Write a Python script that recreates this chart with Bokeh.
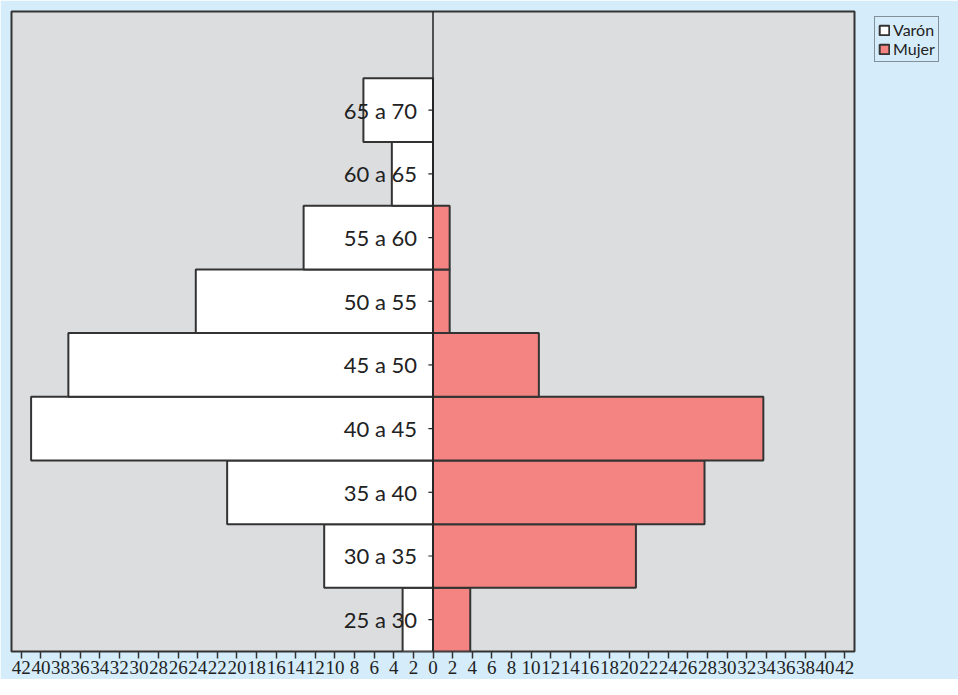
from bokeh.plotting import figure
from bokeh.models import FixedTicker, Span, Legend, LegendItem, ColumnDataSource
from bokeh.core.properties import value
from bokeh.embed import file_html
from bokeh.resources import INLINE

# ---- data ----
age_groups = ["25 a 30", "30 a 35", "35 a 40", "40 a 45", "45 a 50",
              "50 a 55", "55 a 60", "60 a 65", "65 a 70"]
varon = [3.1, 11.1, 21.0, 41.0, 37.2, 24.2, 13.2, 4.2, 7.1]
mujer = [3.8, 20.7, 27.7, 33.7, 10.8, 1.7, 1.7, 0.0, 0.0]
tick_values = list(range(-42, 43, 2))
tick_labels = {t: str(abs(t)) for t in tick_values}
legend_labels = ["Varón", "Mujer"]

BG = "#D5ECFA"
PLOT_BG = "#DCDDDF"
MALE_C = "#FFFFFF"
FEMALE_C = "#F38481"
LINE_C = "#333333"

centers = [i + 0.5 for i in range(len(age_groups))]
src = ColumnDataSource(dict(
    y=centers,
    varon=[-v for v in varon],
    mujer=mujer,
    zero=[0.0] * len(age_groups),
    label=age_groups,
    tick0=[-0.47] * len(age_groups),
))

p = figure(frame_width=843, frame_height=640, output_backend="svg", toolbar_location=None,
           x_range=(-43, 43), y_range=(0, 10.05), y_axis_location=None,
           min_border_left=11, min_border_top=11, min_border_right=88,
           min_border_bottom=28,
           background_fill_color=PLOT_BG, border_fill_color=BG)
p.outline_line_color = LINE_C
p.outline_line_width = 2
p.grid.visible = False

r_m = p.hbar(y="y", left="varon", right="zero", height=1.0, source=src,
             fill_color=MALE_C, line_color=LINE_C, line_width=2)
r_f = p.hbar(y="y", left="zero", right="mujer", height=1.0, source=src,
             fill_color=FEMALE_C, line_color=LINE_C, line_width=2)

p.add_layout(Span(location=0, dimension="height", line_color="#222222", line_width=1.5))
p.segment(x0="tick0", x1="zero", y0="y", y1="y", source=src,
          line_color="#222222", line_width=1.2)
p.text(x="zero", y="y", text="label", source=src, x_offset=-16,
       text_align="right", text_baseline="middle",
       text_font=value("Lato"), text_font_size="22px", text_color="#222222")

ax = p.xaxis[0]
ax.ticker = FixedTicker(ticks=tick_values, minor_ticks=[])
ax.major_label_overrides = tick_labels
ax.axis_line_color = None
ax.major_tick_in = 0
ax.major_tick_out = 7
ax.major_tick_line_color = LINE_C
ax.major_tick_line_width = 1.5
ax.minor_tick_line_color = None
ax.major_label_standoff = 2
ax.major_label_text_font = "Liberation Sans Narrow"
ax.major_label_text_font_size = "19px"
ax.major_label_text_color = "#222222"

legend = Legend(items=[LegendItem(label=legend_labels[0], renderers=[r_m]),
                       LegendItem(label=legend_labels[1], renderers=[r_f])],
                location=(20, 589), orientation="vertical",
                border_line_color=LINE_C, border_line_width=1.5,
                background_fill_alpha=0, padding=3, spacing=0, margin=0,
                glyph_width=12, glyph_height=12, label_standoff=3,
                label_text_font="Lato", label_text_font_size="16px",
                label_text_color="#222222", label_height=16)
p.add_layout(legend, "right")

open("out.html", "w").write(file_html(p, INLINE))
